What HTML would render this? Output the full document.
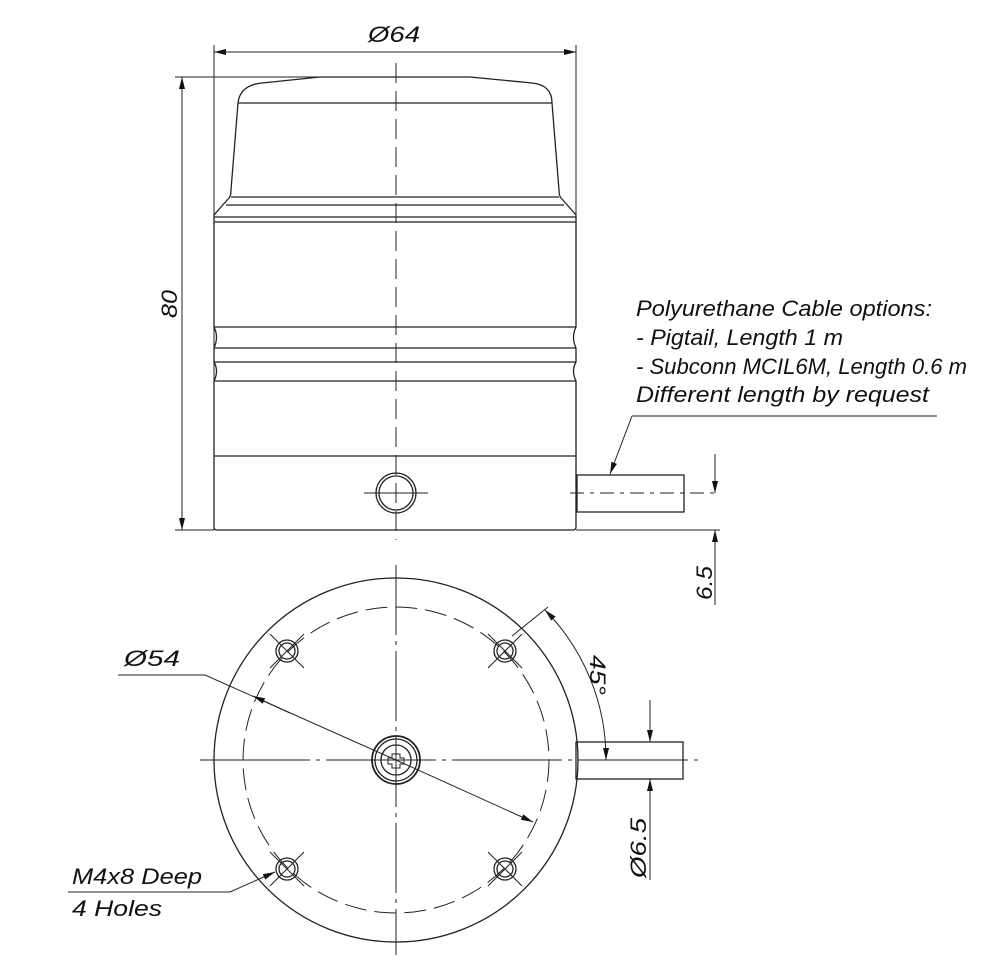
<!DOCTYPE html>
<html><head><meta charset="utf-8"><style>
html,body{margin:0;padding:0;background:#fff;}
svg{display:block;}
text{font-family:"Liberation Sans","DejaVu Sans",sans-serif;font-style:italic;fill:#111;}
</style></head><body>
<svg width="998" height="964" viewBox="0 0 998 964" xmlns="http://www.w3.org/2000/svg">
<defs>
<marker id="a" viewBox="0 0 12 6" refX="12" refY="3" markerWidth="13" markerHeight="6" orient="auto-start-reverse" markerUnits="userSpaceOnUse"><path d="M0,0 L12,3 L0,6 Z" fill="#111"/></marker>
</defs>
<g fill="none" stroke="#222" stroke-width="1.3">
<line x1="214" y1="45" x2="214" y2="530" stroke-width="1"/>
<line x1="576" y1="45" x2="576" y2="222" stroke-width="1"/>
<line x1="214" y1="52" x2="576" y2="52" stroke-width="1" marker-start="url(#a)" marker-end="url(#a)"/>
<line x1="175" y1="77" x2="320" y2="77" stroke-width="1"/>
<line x1="175" y1="530" x2="214" y2="530" stroke-width="1"/>
<line x1="182" y1="77" x2="182" y2="530" stroke-width="1" marker-start="url(#a)" marker-end="url(#a)"/>
<path d="M320,77 L470,77 M238,103 Q240,85 262,83 L320,77 M470,77 L532,83 Q552,85 552,103"/>
<line x1="238" y1="103" x2="552" y2="103"/>
<path d="M238,103 L231,190 Q231,197 228,199 M552,103 L559,190 Q559,197 562,199"/>
<line x1="231" y1="197" x2="559" y2="197"/>
<line x1="226" y1="205" x2="564" y2="205"/>
<path d="M228,199 L214,215 L214,222 M562,199 L576,215 L576,222"/>
<line x1="214" y1="217" x2="576" y2="217"/>
<line x1="214" y1="222" x2="576" y2="222"/>
<path d="M214,222 L214,327 Q219,337 214,348 L214,362 Q219,371 214,381 L214,527 Q214,530 217,530 L573,530 Q576,530 576,527 L576,381 Q571,371 576,362 L576,348 Q571,337 576,327 L576,222"/>
<line x1="214" y1="327" x2="576" y2="327"/>
<line x1="214" y1="348" x2="576" y2="348"/>
<line x1="214" y1="362" x2="576" y2="362"/>
<line x1="214" y1="381" x2="576" y2="381"/>
<line x1="214" y1="456" x2="576" y2="456"/>
<circle cx="396" cy="493" r="20"/>
<circle cx="396" cy="493" r="17"/>
<line x1="364" y1="493" x2="428" y2="493" stroke-width="1"/>
<line x1="396" y1="63" x2="396" y2="540" stroke-width="1" stroke-dasharray="20,8"/>
<rect x="577" y="475" width="107" height="37"/>
<line x1="570" y1="493" x2="720" y2="493" stroke-width="1" stroke-dasharray="14,6,4,6"/>
<line x1="576" y1="530" x2="720" y2="530" stroke-width="1"/>
<line x1="715" y1="454" x2="715" y2="493" stroke-width="1" marker-end="url(#a)"/>
<line x1="715" y1="605" x2="715" y2="530" stroke-width="1" marker-end="url(#a)"/>
<line x1="632" y1="416" x2="937" y2="416" stroke-width="1"/>
<line x1="632" y1="416" x2="610" y2="474" stroke-width="1" marker-end="url(#a)"/>
<circle cx="396" cy="760" r="182"/>
<circle cx="396" cy="760" r="153" stroke-width="1" stroke-dasharray="22,8"/>
<line x1="396" y1="565" x2="396" y2="955" stroke-width="1" stroke-dasharray="70,6,4,6"/>
<line x1="200" y1="760" x2="700" y2="760" stroke-width="1" stroke-dasharray="110,6,4,6"/>
<rect x="576" y="742" width="107" height="37"/>
<g id="h">
<circle cx="287" cy="651" r="11"/><circle cx="287" cy="651" r="8"/>
<line x1="270" y1="634" x2="304" y2="668" stroke-width="1"/>
<line x1="304" y1="634" x2="270" y2="668" stroke-width="1"/>
</g>
<use href="#h" transform="translate(218,0)"/>
<use href="#h" transform="translate(0,218)"/>
<use href="#h" transform="translate(218,218)"/>
<circle cx="396" cy="760" r="24" stroke-width="1.8"/>
<circle cx="396" cy="760" r="21"/>
<circle cx="396" cy="760" r="15"/>
<path d="M392,754 h8 v4 h4 v6 h-4 v4 h-8 v-4 h-4 v-6 h4 z" stroke-width="1"/>
<polyline points="118,675 205,675 396,760" stroke-width="1"/>
<line x1="290" y1="713" x2="253" y2="696" stroke-width="1" marker-end="url(#a)"/>
<line x1="396" y1="760" x2="533" y2="822" stroke-width="1" marker-end="url(#a)"/>
<line x1="512" y1="636" x2="548" y2="607" stroke-width="1"/>
<path d="M545,610 A213,213 0 0 1 606,760" stroke-width="1" marker-start="url(#a)" marker-end="url(#a)"/>
<line x1="650" y1="700" x2="650" y2="742" stroke-width="1" marker-end="url(#a)"/>
<line x1="650" y1="880" x2="650" y2="779" stroke-width="1" marker-end="url(#a)"/>
<line x1="640" y1="742" x2="655" y2="742" stroke-width="1"/>
<line x1="640" y1="779" x2="655" y2="779" stroke-width="1"/>
<polyline points="68,892 230,892 275,872" stroke-width="1" marker-end="url(#a)"/>
</g>
<g font-size="22" lengthAdjust="spacingAndGlyphs">
<text x="368" y="42" textLength="52" lengthAdjust="spacingAndGlyphs">Ø64</text>
<text transform="translate(177,318) rotate(-90)" textLength="28" lengthAdjust="spacingAndGlyphs">80</text>
<text x="636" y="316" textLength="296" lengthAdjust="spacingAndGlyphs">Polyurethane Cable options:</text>
<text x="636" y="345" textLength="207" lengthAdjust="spacingAndGlyphs">- Pigtail, Length 1 m</text>
<text x="636" y="374" textLength="331" lengthAdjust="spacingAndGlyphs">- Subconn MCIL6M, Length 0.6 m</text>
<text x="636" y="402" textLength="293" lengthAdjust="spacingAndGlyphs">Different length by request</text>
<text transform="translate(712,600) rotate(-90)" textLength="34" lengthAdjust="spacingAndGlyphs">6.5</text>
<text x="124" y="666" textLength="56" lengthAdjust="spacingAndGlyphs">Ø54</text>
<text transform="translate(590,655) rotate(90)" textLength="40" lengthAdjust="spacingAndGlyphs">45°</text>
<text transform="translate(646,878) rotate(-90)" textLength="60" lengthAdjust="spacingAndGlyphs">Ø6.5</text>
<text x="72" y="884" textLength="130" lengthAdjust="spacingAndGlyphs">M4x8 Deep</text>
<text x="72" y="916" textLength="90" lengthAdjust="spacingAndGlyphs">4 Holes</text>
</g>
</svg>
</body></html>
